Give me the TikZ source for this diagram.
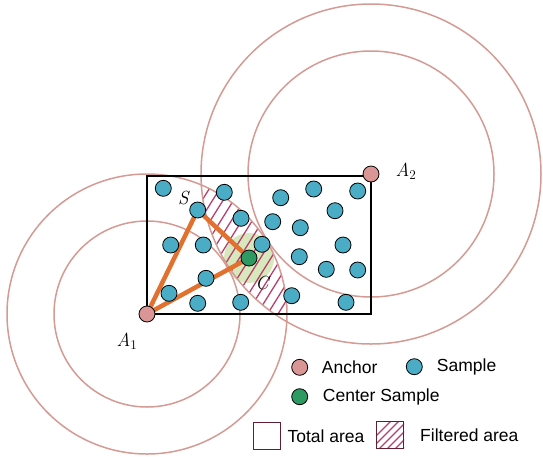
\documentclass[tikz,border=0pt]{standalone}
\usepackage{fontspec}
\setsansfont{Liberation Sans}
\definecolor{ringc}{HTML}{D49A94}
\definecolor{anchorc}{HTML}{D99694}
\definecolor{samplec}{HTML}{4BACC6}
\definecolor{centerc}{HTML}{2E9A63}
\definecolor{haloc}{HTML}{D7E9BC}
\definecolor{edgec}{HTML}{E2702E}
\definecolor{hatchc}{HTML}{B5406E}
\definecolor{legframe}{HTML}{5E1F33}
\begin{document}
\begin{tikzpicture}[x=1pt,y=-1pt,
 ring/.style={draw=ringc,line width=1.5pt},
 dot/.style={circle,draw=black,line width=0.8pt,minimum size=16pt,inner sep=0pt},
 sample/.style={dot,fill=samplec},
 anchorpt/.style={dot,fill=anchorc},
 centerpt/.style={dot,fill=centerc},
 edge/.style={draw=edgec,line width=4.5pt},
 hatchline/.style={draw=hatchc,line width=1.3pt},
 mlabel/.style={inner sep=0pt,font=\fontsize{19}{22}\selectfont\itshape\addfontfeatures{FakeBold=0.8}},
 legtext/.style={anchor=west,inner sep=0pt,font=\sffamily\fontsize{17.5}{20}\selectfont},
 legbox/.style={draw=legframe,line width=1.3pt,minimum size=27pt,inner sep=0pt}
]
\useasboundingbox (0,0) rectangle (543,456);
\coordinate (pA1) at (147,314);
\coordinate (pA2) at (371,174);
\coordinate (pS) at (197.7,210);
\coordinate (pC) at (249,258);
% halo
\fill[haloc] (pC) circle (25);
% filtered area
\begin{scope}
\clip (147,176) rectangle (371,314);
\clip (pA1) circle (140);
\clip (pA2) circle (170);
\begin{scope}[even odd rule]
\clip (0,0) rectangle (543,456) (pA1) circle (93);
\begin{scope}[even odd rule]
\clip (0,0) rectangle (543,456) (pA2) circle (123);
\foreach \i in {0,...,30} \draw[hatchline] (100+10.5*\i,330) -- ++(100,-160);
\end{scope}
\end{scope}
\end{scope}
% rings
\draw[ring] (pA1) circle (140);
\draw[ring] (pA1) circle (93);
\draw[ring] (pA2) circle (170);
\draw[ring] (pA2) circle (123);
% total area
\draw[black,line width=1.6pt] (147,176) rectangle (371,314);
% edges
\draw[edge] (pA1) -- (pS);
\draw[edge] (pA1) -- (pC);
\draw[edge] (pS) -- (pC);
% samples
\foreach \x/\y [count=\k] in {163.3/188.3, 224.3/192.3, 280.7/197.7, 313.7/189, 357.7/191,
  335/210.7, 241/218.3, 272.7/221.7, 300.3/227.7, 170.7/245, 203.3/245, 262/244.3,
  343/245, 299.3/256.7, 206/278.3, 326.3/269.3, 357.7/270, 169/293.3, 197.7/303.3,
  240.7/302.3, 291.7/295.7, 346/302.3}
  \node[sample] (s\k) at (\x,\y) {};
\node[sample] (S) at (pS) {};
\node[centerpt] (C) at (pC) {};
\node[anchorpt] (A1) at (pA1) {};
\node[anchorpt] (A2) at (pA2) {};
% labels
\node[mlabel] (lA1) at (127,341) {A\textsubscript{\upshape 1}};
\node[mlabel] (lA2) at (406,171) {A\textsubscript{\upshape 2}};
\node[mlabel] (lS) at (183.3,198.3) {S};
\node[mlabel] (lC) at (262,283) {C};
% legend
\node[anchorpt] (kA) at (299.7,367.3) {};
\node[legtext] (tA) at (321.7,367.3) {Anchor};
\node[sample] (kS) at (414.3,366.7) {};
\node[legtext] (tS) at (436.7,366.7) {Sample};
\node[centerpt] (kC) at (299.7,396.7) {};
\node[legtext] (tC) at (322.7,397) {Center Sample};
\node[legbox] (kT) at (266.7,436.3) {};
\node[legtext] (tT) at (287.3,436) {Total area};
\begin{scope}
\clip (376.7,421.3) rectangle (404,448.3);
\foreach \i in {0,...,8} \draw[hatchline] (360+8*\i,452) -- ++(36,-36);
\end{scope}
\node[legbox] (kF) at (390.3,434.8) {};
\node[legtext] (tF) at (420,435) {Filtered area};
\end{tikzpicture}
\end{document}
